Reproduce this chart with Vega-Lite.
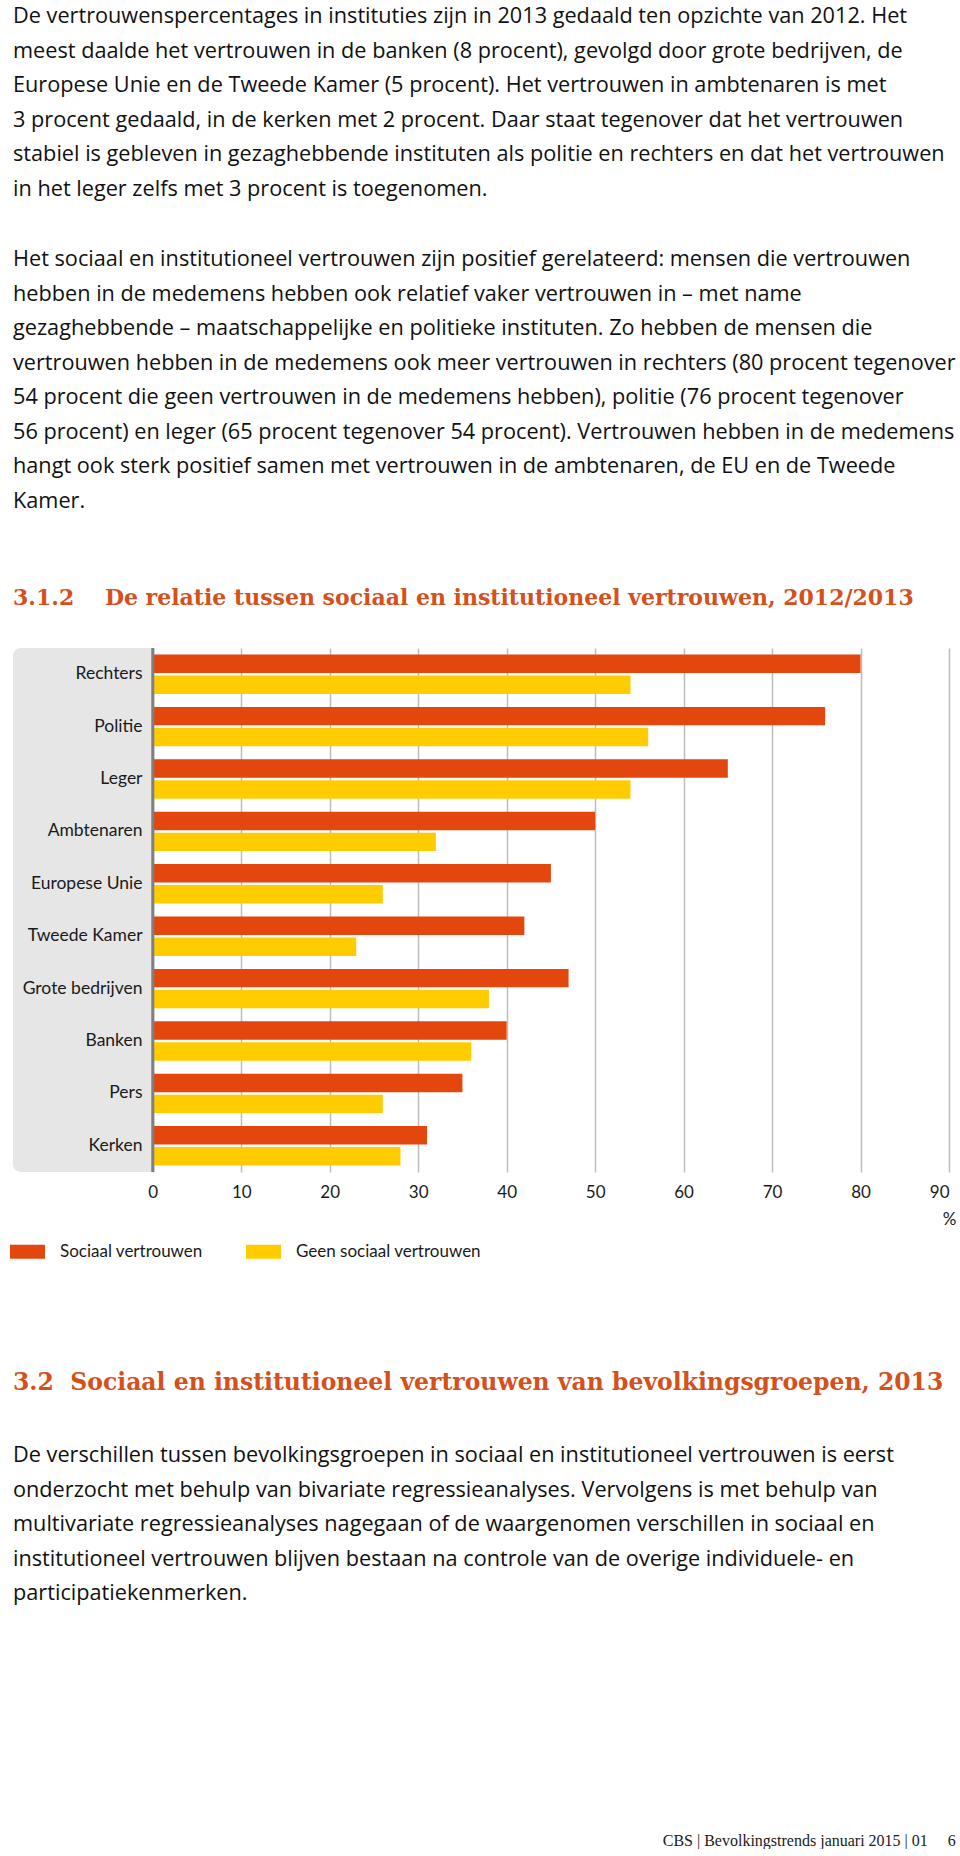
{
  "$schema": "https://vega.github.io/schema/vega-lite/v6.json",
  "padding": {"left": 10, "top": 6, "right": 0, "bottom": 0},
  "background": "white",
  "spacing": 143,
  "config": {"view": {"stroke": null}, "font": "Lato"},
  "title": {
    "text": "CBS | Bevolkingstrends januari 2015 | 01\u00a0\u00a0\u00a0\u00a0\u00a06",
    "orient": "bottom", "anchor": "end", "font": "Liberation Serif", "fontSize": 16,
    "fontWeight": "normal", "color": "#1a1a1a", "offset": 158
  },
  "vconcat": [
    {
      "title": {
        "text": [
          "De vertrouwenspercentages in instituties zijn in 2013 gedaald ten opzichte van 2012. Het",
          "meest daalde het vertrouwen in de banken (8 procent), gevolgd door grote bedrijven, de",
          "Europese Unie en de Tweede Kamer (5 procent). Het vertrouwen in ambtenaren is met",
          "3 procent gedaald, in de kerken met 2 procent. Daar staat tegenover dat het vertrouwen",
          "stabiel is gebleven in gezaghebbende instituten als politie en rechters en dat het vertrouwen",
          "in het leger zelfs met 3 procent is toegenomen."
        ],
        "anchor": "start", "frame": "bounds",
        "font": "Open Sans", "fontSize": 21.7, "fontWeight": "normal", "color": "#111111", "lineHeight": 34.5,
        "offset": 49
      },
      "vconcat": [
        {
          "width": 936,
          "height": 524,
          "title": {
            "text": [
              "Het sociaal en institutioneel vertrouwen zijn positief gerelateerd: mensen die vertrouwen",
              "hebben in de medemens hebben ook relatief vaker vertrouwen in – met name",
              "gezaghebbende – maatschappelijke en politieke instituten. Zo hebben de mensen die",
              "vertrouwen hebben in de medemens ook meer vertrouwen in rechters (80 procent tegenover",
              "54 procent die geen vertrouwen in de medemens hebben), politie (76 procent tegenover",
              "56 procent) en leger (65 procent tegenover 54 procent). Vertrouwen hebben in de medemens",
              "hangt ook sterk positief samen met vertrouwen in de ambtenaren, de EU en de Tweede",
              "Kamer."
            ],
            "subtitle": "3.1.2\u00a0\u00a0\u00a0\u00a0De relatie tussen sociaal en institutioneel vertrouwen, 2012/2013",
            "anchor": "start", "frame": "bounds",
            "font": "Open Sans", "fontSize": 21.7, "fontWeight": "normal", "color": "#111111", "lineHeight": 34.5,
            "subtitleFont": "DejaVu Serif", "subtitleFontSize": 22, "subtitleFontWeight": "bold",
            "subtitleColor": "#D4501C", "subtitlePadding": 75, "offset": 38
          },
          "data": {
            "values": [
              {"instituut": "Rechters", "groep": "Sociaal vertrouwen", "pct": 80},
              {"instituut": "Rechters", "groep": "Geen sociaal vertrouwen", "pct": 54},
              {"instituut": "Politie", "groep": "Sociaal vertrouwen", "pct": 76},
              {"instituut": "Politie", "groep": "Geen sociaal vertrouwen", "pct": 56},
              {"instituut": "Leger", "groep": "Sociaal vertrouwen", "pct": 65},
              {"instituut": "Leger", "groep": "Geen sociaal vertrouwen", "pct": 54},
              {"instituut": "Ambtenaren", "groep": "Sociaal vertrouwen", "pct": 50},
              {"instituut": "Ambtenaren", "groep": "Geen sociaal vertrouwen", "pct": 32},
              {"instituut": "Europese Unie", "groep": "Sociaal vertrouwen", "pct": 45},
              {"instituut": "Europese Unie", "groep": "Geen sociaal vertrouwen", "pct": 26},
              {"instituut": "Tweede Kamer", "groep": "Sociaal vertrouwen", "pct": 42},
              {"instituut": "Tweede Kamer", "groep": "Geen sociaal vertrouwen", "pct": 23},
              {"instituut": "Grote bedrijven", "groep": "Sociaal vertrouwen", "pct": 47},
              {"instituut": "Grote bedrijven", "groep": "Geen sociaal vertrouwen", "pct": 38},
              {"instituut": "Banken", "groep": "Sociaal vertrouwen", "pct": 40},
              {"instituut": "Banken", "groep": "Geen sociaal vertrouwen", "pct": 36},
              {"instituut": "Pers", "groep": "Sociaal vertrouwen", "pct": 35},
              {"instituut": "Pers", "groep": "Geen sociaal vertrouwen", "pct": 26},
              {"instituut": "Kerken", "groep": "Sociaal vertrouwen", "pct": 31},
              {"instituut": "Kerken", "groep": "Geen sociaal vertrouwen", "pct": 28}
            ]
          },
          "layer": [
            {
              "data": {"values": [{"panel": "labels"}]},
              "mark": {"type": "rect", "color": "#E6E6E6", "cornerRadiusTopLeft": 8, "cornerRadiusBottomLeft": 8},
              "encoding": {
                "x": {"datum": -15.8, "type": "quantitative", "scale": {"domain": [-15.8, 90], "nice": false, "zero": false}},
                "x2": {"datum": 0}
              }
            },
            {
              "mark": {"type": "bar"},
              "encoding": {
                "x": {
                  "field": "pct", "type": "quantitative",
                  "scale": {"domain": [-15.8, 90], "nice": false, "zero": false},
                  "axis": {
                    "values": [0, 10, 20, 30, 40, 50, 60, 70, 80, 90],
                    "grid": true, "gridColor": "#BDBDBD", "gridWidth": 1.5,
                    "ticks": false, "domain": false, "labelFontSize": 17, "labelColor": "#1a1a1a",
                    "labelPadding": 12, "title": "%", "titleAnchor": "end", "titleAlign": "center",
                    "titleFontSize": 17, "titleFontWeight": "normal", "titleColor": "#1a1a1a", "titlePadding": 11
                  }
                },
                "y": {
                  "field": "instituut", "type": "nominal",
                  "sort": ["Rechters", "Politie", "Leger", "Ambtenaren", "Europese Unie", "Tweede Kamer", "Grote bedrijven", "Banken", "Pers", "Kerken"],
                  "scale": {"paddingInner": 0, "paddingOuter": 0},
                  "axis": {
                    "title": null, "domain": false, "ticks": false, "tickSize": 0, "zindex": 2,
                    "labelPadding": -129, "labelAlign": "right", "labelFontSize": 17.5, "labelColor": "#1a1a1a"
                  }
                },
                "yOffset": {
                  "field": "groep", "type": "nominal",
                  "sort": ["Sociaal vertrouwen", "Geen sociaal vertrouwen"],
                  "scale": {"paddingInner": 0.12, "paddingOuter": 0.31}
                },
                "color": {
                  "field": "groep", "type": "nominal",
                  "sort": ["Sociaal vertrouwen", "Geen sociaal vertrouwen"],
                  "scale": {"domain": ["Sociaal vertrouwen", "Geen sociaal vertrouwen"], "range": ["#E4470D", "#FFCC00"]},
                  "legend": {
                    "title": null, "orient": "none", "direction": "horizontal",
                    "legendX": -3, "legendY": 586,
                    "symbolType": "M-1,-0.4L1,-0.4L1,0.4L-1,0.4Z", "symbolSize": 1225,
                    "symbolStrokeWidth": 0, "symbolOpacity": 1, "labelLimit": 400,
                    "labelFontSize": 17, "labelColor": "#1a1a1a", "labelOffset": 15, "columnPadding": 43
                  }
                }
              }
            },
            {
              "data": {"values": [{"as": "nul"}]},
              "mark": {"type": "rule", "color": "#7F7F7F", "strokeWidth": 3},
              "encoding": {"x": {"datum": 0}}
            }
          ]
        }
      ]
    },
    {
      "width": 936,
      "height": 50,
      "title": {
        "text": "3.2\u00a0\u00a0Sociaal en institutioneel vertrouwen van bevolkingsgroepen, 2013",
        "subtitle": [
          "De verschillen tussen bevolkingsgroepen in sociaal en institutioneel vertrouwen is eerst",
          "onderzocht met behulp van bivariate regressieanalyses. Vervolgens is met behulp van",
          "multivariate regressieanalyses nagegaan of de waargenomen verschillen in sociaal en",
          "institutioneel vertrouwen blijven bestaan na controle van de overige individuele- en",
          "participatiekenmerken."
        ],
        "anchor": "start", "frame": "bounds",
        "font": "DejaVu Serif", "fontSize": 23.5, "fontWeight": "bold", "color": "#D4501C",
        "subtitleFont": "Open Sans", "subtitleFontSize": 21.7, "subtitleColor": "#111111",
        "subtitleLineHeight": 34.5, "subtitlePadding": 51, "offset": 20
      },
      "data": {"values": []},
      "mark": "text"
    }
  ]
}
